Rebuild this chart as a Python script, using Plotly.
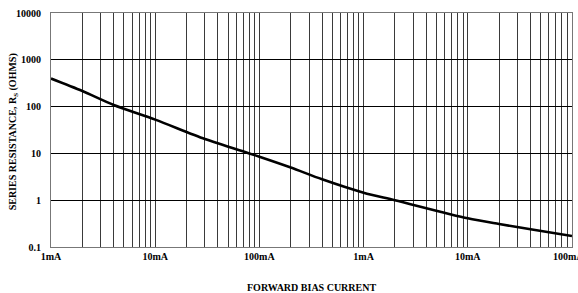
import plotly.graph_objects as go

# Forward bias current (mA) and series resistance (ohms)
current_ma = [0.001, 0.002, 0.004, 0.01, 0.03, 0.08, 0.1, 0.2, 0.4, 1, 2, 10, 20, 40, 100]
resistance_ohm = [398, 215, 108, 52.7, 20.3, 10, 8.5, 5.0, 2.8, 1.45, 1.0, 0.41, 0.31, 0.24, 0.172]

# x ticks: decades labelled, intermediate grid lines unlabeled
x_decades = [0.001, 0.01, 0.1, 1, 10, 100]
x_decade_labels = ["1mA", "10mA", "100mA", "1mA", "10mA", "100mA&nbsp;&nbsp;&nbsp;"]
y_ticks = [0.1, 1, 10, 100, 1000, 10000]
y_tick_labels = ["0.1", "1", "10", "100", "1000", "10000"]

x_tickvals, x_ticktext = [], []
for d, lab in zip(x_decades, x_decade_labels):
    if d < 100:
        for m in range(1, 10):
            x_tickvals.append(d * m)
            x_ticktext.append(lab if m == 1 else "")
    else:
        x_tickvals.append(d)
        x_ticktext.append(lab)

font_family = "Liberation Serif"

fig = go.Figure()
fig.add_trace(go.Scatter(
    x=current_ma, y=resistance_ohm, mode="lines",
    line=dict(color="black", width=2.6, shape="spline", smoothing=0.8),
    hoverinfo="skip", showlegend=False,
))

fig.update_layout(
    width=578, height=293,
    margin=dict(l=51, r=6, t=13, b=46),
    paper_bgcolor="white", plot_bgcolor="white",
    font=dict(family=font_family, color="black"),
    xaxis=dict(
        type="log", range=[-3, 2], automargin=False,
        tickmode="array", tickvals=x_tickvals, ticktext=x_ticktext,
        showgrid=True, gridcolor="#3a3a3a", gridwidth=1,
        showline=True, linecolor="#777", linewidth=1, mirror=True,
        ticks="", tickfont=dict(family=font_family, size=10, color="black", weight="bold"),
        ticklabeloverflow="allow",
        zeroline=False,
    ),
    yaxis=dict(
        type="log", range=[-1, 4], automargin=False,
        tickmode="array", tickvals=y_ticks, ticktext=y_tick_labels,
        showgrid=True, gridcolor="black", gridwidth=1,
        showline=True, linecolor="#777", linewidth=1, mirror=True,
        ticks="", tickfont=dict(family=font_family, size=10, color="black", weight="bold"),
        ticklabelstandoff=7,
        zeroline=False,
    ),
    annotations=[
        dict(text="<b>FORWARD BIAS CURRENT</b>", xref="paper", yref="paper",
             x=0.5, y=0, yshift=-40, xanchor="center", yanchor="middle",
             showarrow=False, font=dict(family=font_family, size=10, color="black")),
        dict(text="<b>SERIES RESISTANCE, R<sub>S</sub> (OHMS)</b>", xref="paper", yref="paper",
             x=0, xshift=-38, y=0.49, xanchor="center", yanchor="middle", textangle=-90,
             showarrow=False, font=dict(family=font_family, size=10, color="black")),
    ],
)

fig.write_html(
    "out.html",
    config={"displayModeBar": False},
    post_script="document.body.style.margin='0px';document.body.style.overflow='hidden';",
)
